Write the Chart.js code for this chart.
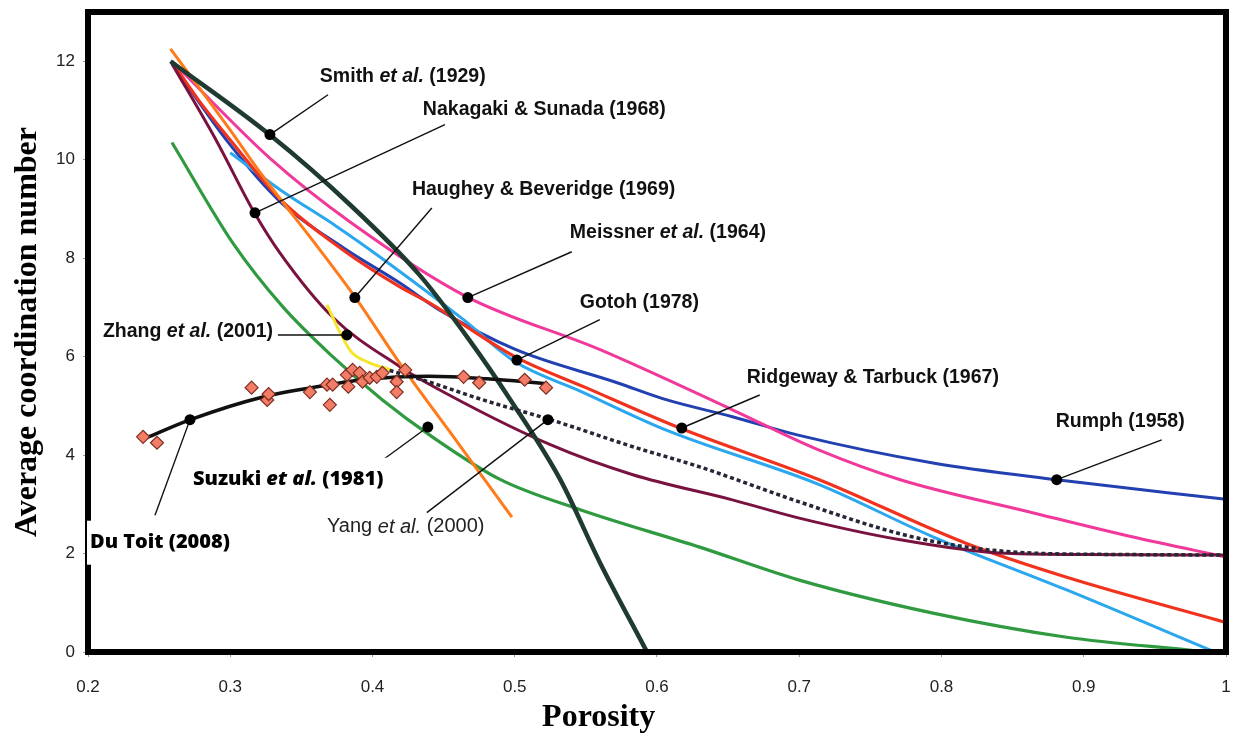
<!DOCTYPE html>
<html>
<head>
<meta charset="utf-8">
<script src="https://cdn.jsdelivr.net/npm/chart.js@4.4.1/dist/chart.umd.min.js"></script>
<style>
  html, body { margin: 0; padding: 0; background: #fff; }
  #wrap { width: 1234px; height: 736px; }
</style>
</head>
<body>
<div id="wrap"><canvas id="coordChart"></canvas></div>
<script>
// porosity / coordination number pairs
const smith = [[0.258, 12.0], [0.328, 10.5], [0.384, 9.09], [0.433, 7.66], [0.468, 6.34], [0.497, 5.12], [0.532, 3.5], [0.56, 1.81], [0.593, 0.0]];
const nakagaki = [[0.259, 11.95], [0.29, 10.4], [0.317, 8.92], [0.335, 8.1], [0.372, 6.8], [0.419, 5.8], [0.438, 5.47], [0.525, 4.21], [0.583, 3.6], [0.653, 3.09], [0.7, 2.72], [0.771, 2.28], [0.841, 2.01], [0.9, 1.98], [1.0, 1.97]];
const haughey = [[0.258, 12.25], [0.3, 10.6], [0.321, 9.74], [0.363, 8.17], [0.388, 7.2], [0.421, 5.79], [0.46, 4.25], [0.498, 2.74]];
const meissner = [[0.259, 12.0], [0.329, 10.0], [0.384, 8.74], [0.466, 7.22], [0.56, 6.14], [0.653, 4.92], [0.714, 4.1], [0.771, 3.5], [0.864, 2.83], [0.934, 2.34], [1.0, 1.93]];
const gotoh = [[0.26, 11.95], [0.278, 11.2], [0.3, 10.4], [0.335, 9.2], [0.38, 8.15], [0.419, 7.42], [0.44, 7.09], [0.5, 6.0], [0.55, 5.37], [0.616, 4.55], [0.714, 3.5], [0.818, 2.2], [0.888, 1.52], [1.0, 0.6]];
const rumph = [[0.259, 11.95], [0.3, 10.3], [0.335, 9.15], [0.38, 8.2], [0.419, 7.5], [0.447, 6.95], [0.5, 6.15], [0.572, 5.47], [0.607, 5.12], [0.653, 4.78], [0.7, 4.4], [0.794, 3.84], [0.881, 3.5], [1.0, 3.1]];
const ridgeway = [[0.3, 10.14], [0.335, 9.39], [0.375, 8.64], [0.405, 8.03], [0.464, 6.75], [0.5, 5.9], [0.546, 5.3], [0.607, 4.5], [0.714, 3.4], [0.794, 2.34], [0.888, 1.26], [0.992, 0.0]];
const yangGreen = [[0.259, 10.35], [0.302, 8.3], [0.337, 7.01], [0.372, 6.0], [0.407, 5.12], [0.442, 4.37], [0.49, 3.5], [0.546, 2.89], [0.63, 2.13], [0.7, 1.46], [0.794, 0.79], [0.888, 0.3], [0.977, 0.03]];
const zhang = [[0.368, 7.05], [0.377, 6.5], [0.385, 6.1], [0.396, 5.9], [0.414, 5.72]];
const yangDotted = [[0.412, 5.72], [0.438, 5.5], [0.48, 5.1], [0.525, 4.72], [0.583, 4.17], [0.63, 3.76], [0.7, 3.05], [0.771, 2.4], [0.818, 2.13], [0.864, 2.01], [0.93, 1.98], [1.0, 1.97]];
const duToitFit = [[0.241, 4.35], [0.272, 4.72], [0.323, 5.18], [0.37, 5.43], [0.393, 5.53], [0.44, 5.6], [0.48, 5.55], [0.523, 5.45]];
const suzukiPts = [[0.2387, 4.37], [0.2485, 4.25], [0.315, 5.37], [0.326, 5.12], [0.327, 5.24], [0.356, 5.28], [0.37, 5.02], [0.368, 5.43], [0.372, 5.43], [0.382, 5.63], [0.383, 5.39], [0.386, 5.73], [0.391, 5.67], [0.393, 5.49], [0.398, 5.57], [0.403, 5.59], [0.407, 5.67], [0.417, 5.49], [0.417, 5.28], [0.423, 5.73], [0.464, 5.59], [0.475, 5.47], [0.507, 5.53], [0.522, 5.37]];

const xTicks = [0.2, 0.3, 0.4, 0.5, 0.6, 0.7, 0.8, 0.9, 1];
const yTicks = [0, 2, 4, 6, 8, 10, 12];

// callouts: text parts ([text, italic]), text anchor, leader start, leader end (dot)
const notes = [
  { parts: [['Smith ', 0], ['et al.', 1], [' (1929)', 0]], at: [0.363, 11.69], from: [0.3687, 11.32], to: [0.3279, 10.51] },
  { parts: [['Nakagaki & Sunada (1968)', 0]], at: [0.4354, 11.02], from: [0.4509, 10.71], to: [0.3174, 8.92] },
  { parts: [['Haughey & Beveridge (1969)', 0]], at: [0.4277, 9.39], from: [0.4417, 9.02], to: [0.3876, 7.2] },
  { parts: [['Meissner ', 0], ['et al.', 1], [' (1964)', 0]], at: [0.5387, 8.52], from: [0.5401, 8.13], to: [0.467, 7.2] },
  { parts: [['Gotoh (1978)', 0]], at: [0.5457, 7.09], from: [0.5598, 6.75], to: [0.5015, 5.93] },
  { parts: [['Ridgeway & Tarbuck (1967)', 0]], at: [0.6631, 5.57], from: [0.6722, 5.22], to: [0.6174, 4.55] },
  { parts: [['Rumph (1958)', 0]], at: [0.8803, 4.67], from: [0.9548, 4.31], to: [0.881, 3.5] },
  { parts: [['Zhang ', 0], ['et al.', 1], [' (2001)', 0]], at: [0.2105, 6.5], from: [0.3335, 6.44], to: [0.382, 6.44] },
  { parts: [['Suzuki ', 0], ['et al.', 1], [' (1981)', 0]], at: [0.2738, 3.5], from: [0.4052, 3.86], to: [0.4389, 4.57], style: 'round', box: true },
  { parts: [['Yang ', 0], ['et al.', 1], [' (2000)', 0]], at: [0.368, 2.54], from: [0.4382, 2.83], to: [0.5233, 4.72], style: 'light' },
  { parts: [['Du Toit (2008)', 0]], at: [0.2014, 2.22], from: [0.2471, 2.78], to: [0.2717, 4.72], style: 'round', box: true }
];

function pts(arr) {
  return arr.map(p => ({ x: p[0], y: p[1] }));
}

function curve(label, arr, color, width) {
  return {
    label: label,
    data: pts(arr),
    showLine: true,
    borderColor: color,
    backgroundColor: color,
    borderWidth: width,
    pointRadius: 0,
    cubicInterpolationMode: 'monotone'
  };
}

let datasets = [];

notes.forEach(n => {
  datasets.push({
    label: 'leader',
    data: pts([n.from, n.to]),
    showLine: true,
    borderColor: '#111',
    borderWidth: 1.4,
    pointRadius: [0, 5.5],
    pointBackgroundColor: '#000',
    pointBorderWidth: 0
  });
});

datasets.push({
  label: 'Suzuki et al. (1981) data',
  data: pts(suzukiPts),
  showLine: false,
  pointStyle: 'rectRot',
  pointRadius: 6.5,
  pointBackgroundColor: '#f27c66',
  pointBorderColor: '#7e2e22',
  pointBorderWidth: 1.2
});
datasets.push(curve('Du Toit (2008)', duToitFit, '#111111', 3.5));
let dotted = curve('Yang et al. (2000)', yangDotted, '#262636', 3.5);
dotted.borderDash = [4, 3];
datasets.push(dotted);
datasets.push(curve('Smith et al. (1929)', smith, '#1f3b2f', 4.5));
datasets.push(curve('Zhang et al. (2001)', zhang, '#f4e62e', 3));
datasets.push(curve('Haughey & Beveridge (1969)', haughey, '#ff7a1a', 3));
datasets.push(curve('Nakagaki & Sunada (1968)', nakagaki, '#7a1240', 3));
datasets.push(curve('Meissner et al. (1964)', meissner, '#f0399a', 3));
datasets.push(curve('Gotoh (1978)', gotoh, '#f0321e', 3.2));
datasets.push(curve('Ridgeway & Tarbuck (1967)', ridgeway, '#2aa7ee', 3));
datasets.push(curve('Rumph (1958)', rumph, '#2240b0', 3));
datasets.push(curve('green', yangGreen, '#2f9a40', 3.2));

const framePlugin = {
  id: 'framePlugin',
  afterDatasetsDraw(chart) {
    const { ctx, chartArea } = chart;
    ctx.save();
    ctx.lineWidth = 6;
    ctx.strokeStyle = '#000';
    ctx.strokeRect(chartArea.left, chartArea.top, chartArea.right - chartArea.left, chartArea.bottom - chartArea.top);
    ctx.restore();
  },
  afterDraw(chart) {
    const ctx = chart.ctx;
    const xs = chart.scales.x, ys = chart.scales.y;
    ctx.save();
    ctx.textBaseline = 'middle';
    ctx.textAlign = 'left';
    notes.forEach(n => {
      let family = '"Liberation Sans", Arial, sans-serif', weight = 'bold', size = 19.5, color = '#111';
      if (n.style === 'round') { family = '"Open Sans", sans-serif'; weight = '800'; size = 20; color = '#000'; }
      if (n.style === 'light') { weight = 'normal'; size = 20; color = '#222'; }
      const x = xs.getPixelForValue(n.at[0]);
      const y = ys.getPixelForValue(n.at[1]);
      let w = 0;
      n.parts.forEach(p => {
        ctx.font = (p[1] ? 'italic ' : '') + weight + ' ' + size + 'px ' + family;
        w += ctx.measureText(p[0]).width;
      });
      if (n.box) {
        ctx.fillStyle = '#fff';
        ctx.fillRect(x - 3, y - 22, w + 8, 44);
      }
      ctx.fillStyle = color;
      let cx = x;
      n.parts.forEach(p => {
        ctx.font = (p[1] ? 'italic ' : '') + weight + ' ' + size + 'px ' + family;
        ctx.fillText(p[0], cx, y);
        cx += ctx.measureText(p[0]).width;
      });
    });
    // x axis title sits left of centre in the original
    ctx.font = 'bold 32px "Liberation Serif", "Times New Roman", serif';
    ctx.textAlign = 'center';
    ctx.fillStyle = '#000';
    ctx.fillText('Porosity', xs.getPixelForValue(0.559), 718);
    ctx.restore();
  }
};

const ctx = document.getElementById('coordChart').getContext('2d');
const chart = new Chart(ctx, {
  type: 'scatter',
  data: { datasets: datasets },
  options: {
    responsive: true,
    maintainAspectRatio: false,
    animation: false,
    layout: { padding: { left: 0, top: 12, right: 8, bottom: 0 } },
    plugins: {
      legend: { display: false },
      tooltip: { enabled: false }
    },
    scales: {
      x: {
        type: 'linear',
        min: 0.2,
        max: 1,
        afterBuildTicks: scale => { scale.ticks = xTicks.map(v => ({ value: v })); },
        afterFit: scale => { scale.height = 84; scale.paddingLeft = 0; scale.paddingRight = 0; },
        ticks: {
          padding: 20,
          color: '#222',
          font: { family: '"Liberation Sans", Arial, sans-serif', size: 17 },
          callback: v => String(Number(v.toFixed(1)))
        },
        grid: { drawOnChartArea: false, tickLength: 5, color: '#999' },
        border: { display: false }
      },
      y: {
        type: 'linear',
        min: 0,
        max: 13,
        afterBuildTicks: scale => { scale.ticks = yTicks.map(v => ({ value: v })); },
        afterFit: scale => { scale.width = 88; scale.paddingTop = 0; scale.paddingBottom = 0; },
        ticks: {
          padding: 8,
          color: '#222',
          font: { family: '"Liberation Sans", Arial, sans-serif', size: 17 }
        },
        grid: { drawOnChartArea: false, tickLength: 5, color: '#999' },
        border: { display: false },
        title: {
          display: true,
          text: 'Average coordination number',
          color: '#000',
          padding: { top: 9, bottom: 0 },
          font: { family: '"Liberation Serif", "Times New Roman", serif', size: 32, weight: 'bold', lineHeight: 1.2 }
        }
      }
    }
  },
  plugins: [framePlugin]
});
</script>
</body>
</html>
